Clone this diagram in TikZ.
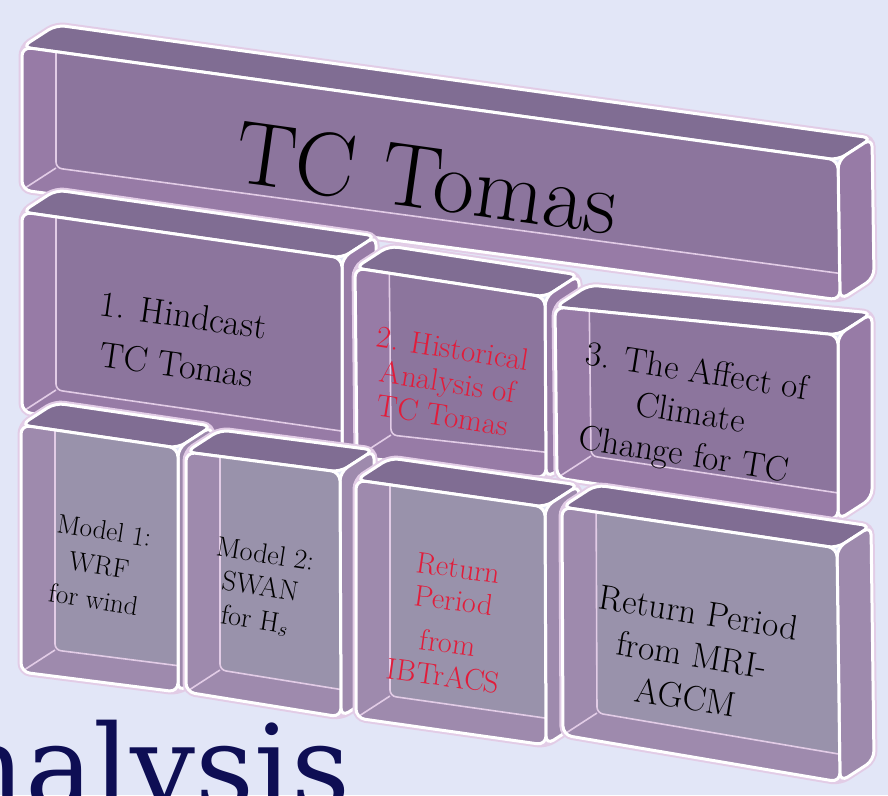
\documentclass[tikz,border=0pt]{standalone}
\usepackage{fontspec}
\newfontfamily\bannerfont{DejaVu Serif}
\usetikzlibrary{calc}

\definecolor{bgblue}{RGB}{226,230,247}
\definecolor{trayfloor}{RGB}{140,117,157}
\definecolor{traywall}{RGB}{151,123,166}
\definecolor{traytop}{RGB}{128,109,147}
\definecolor{lowfloor}{RGB}{153,146,171}
\definecolor{lowwall}{RGB}{158,138,173}
\definecolor{rimglow}{RGB}{226,204,230}
\definecolor{histred}{RGB}{226,28,58}
\definecolor{navy}{RGB}{14,14,84}

\tikzset{
  rim/.style={draw=white, line width=3pt, rounded corners=9pt},
  glow/.style={draw=rimglow, line width=7pt, rounded corners=9pt},
  seam/.style={draw=rimglow, line width=1.6pt},
  boxtext/.style={align=center, inner sep=0pt},
}

% tray: #1 name, #2..#5 front corners (tl,tr,br,bl), #6 floor, #7 wall
\newcommand{\tray}[7]{
  \coordinate (#1-tl) at #2;
  \coordinate (#1-tr) at #3;
  \coordinate (#1-br) at #4;
  \coordinate (#1-bl) at #5;
  \foreach \c in {tl,tr,br,bl}
    \coordinate (#1-\c-b) at ($(#1-\c)+(34,-22)$);
  \path[glow] (#1-tl) -- (#1-tl-b) -- (#1-tr-b) -- (#1-br-b) -- (#1-br) -- (#1-bl) -- cycle;
  \filldraw[rim, fill=traytop] (#1-tl) -- (#1-tl-b) -- (#1-tr-b) -- (#1-tr) -- cycle;
  \filldraw[rim, fill=#7] (#1-tr) -- (#1-tr-b) -- (#1-br-b) -- (#1-br) -- cycle;
  \begin{scope}
    \clip[rounded corners=9pt] (#1-tl) -- (#1-tr) -- (#1-br) -- (#1-bl) -- cycle;
    \fill[#7] (#1-tl) -- (#1-tr) -- (#1-br) -- (#1-bl) -- cycle;
    \filldraw[seam, fill=#6, rounded corners=6pt] (#1-tl-b) -- (#1-tr-b) -- (#1-br-b) -- (#1-bl-b) -- cycle;
    \draw[seam] (#1-bl) -- (#1-bl-b);
  \end{scope}
  \draw[rim] (#1-tl) -- (#1-tr) -- (#1-br) -- (#1-bl) -- cycle;
}

\begin{document}
\begin{tikzpicture}[x=1pt, y=-1pt]
  \fill[bgblue] (0,0) rectangle (888,795);
  \useasboundingbox (0,0) rectangle (888,795);

  % top row
  \tray{title}{(22,47)}{(838,160)}{(840,300)}{(22,190)}{trayfloor}{traywall}

  % middle row
  \tray{hind}{(22,212)}{(342,258)}{(342,458)}{(22,412)}{trayfloor}{traywall}
  \tray{hist}{(355,268)}{(545,297)}{(546,478)}{(357,457)}{trayfloor}{traywall}
  \tray{clim}{(555,307)}{(838,335)}{(838,520)}{(557,478)}{trayfloor}{traywall}

  % bottom row
  \tray{wrf}{(21,425)}{(178,448)}{(178,692)}{(21,672)}{lowfloor}{lowwall}
  \tray{swan}{(186,452)}{(340,472)}{(341,717)}{(186,692)}{lowfloor}{lowwall}
  \tray{ibtr}{(356,480)}{(545,507)}{(546,745)}{(356,718)}{lowfloor}{lowwall}
  \tray{mri}{(562,507)}{(837,548)}{(840,782)}{(563,735)}{lowfloor}{lowwall}

  \node[boxtext, rotate=-8, font=\fontsize{90}{96}\selectfont] (title-txt) at (427,178) {TC Tomas};

  \node[boxtext, rotate=-8, font=\fontsize{36}{50}\selectfont] (hind-txt) at (180,340) {1. Hindcast\\TC Tomas};
  \node[boxtext, rotate=-9, text=histred, font=\fontsize{31}{34}\selectfont] (hist-txt) at (448,382) {2. Historical\\Analysis of\\TC Tomas};
  \node[boxtext, rotate=-9, font=\fontsize{35}{42}\selectfont] (clim-txt) at (690,415) {3. The Affect of\\Climate\\Change for TC};

  \node[boxtext, rotate=-9, font=\fontsize{27}{35}\selectfont] (wrf-txt) at (99,565) {Model 1:\\WRF\\for wind};
  \node[boxtext, rotate=-9, font=\fontsize{28}{33}\selectfont] (swan-txt) at (260,588) {Model 2:\\SWAN\\for H$_s$};
  \node[boxtext, rotate=-8, text=histred, font=\fontsize{30}{33}\selectfont] (ibtr-txt) at (451,622) {Return\\Period\\[10pt]from\\IBTrACS};
  \node[boxtext, rotate=-9, font=\fontsize{35}{43}\selectfont] (mri-txt) at (692,655) {Return Period\\from MRI-\\AGCM};

  \node[anchor=base west, inner sep=0pt, text=navy, font=\bannerfont\fontsize{115}{120}\selectfont] (banner) at (-49,807) {nalysis};
\end{tikzpicture}
\end{document}
